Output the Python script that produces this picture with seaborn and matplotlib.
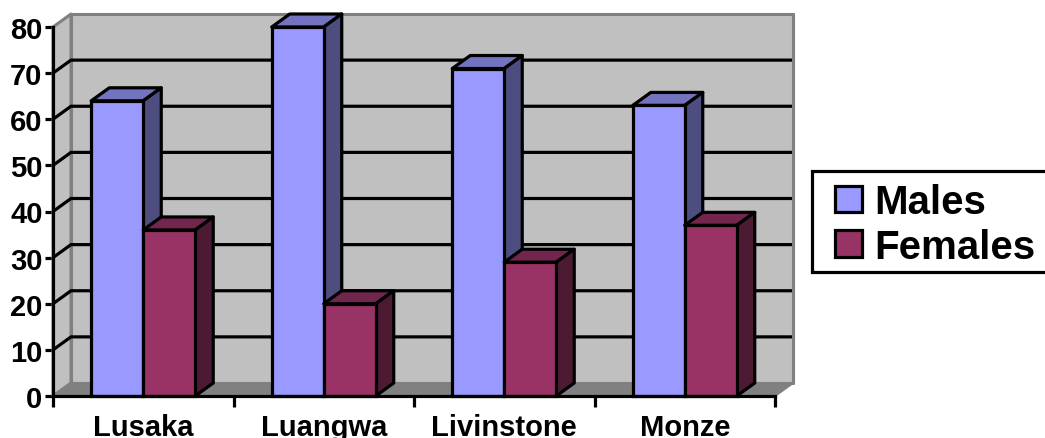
import matplotlib
matplotlib.use("Agg")
import matplotlib.pyplot as plt
import pandas as pd
import seaborn as sns
from matplotlib.patches import Polygon, Rectangle

towns = ["Lusaka", "Luangwa", "Livinstone", "Monze"]
males = [64, 80, 71, 63]
females = [36, 20, 29, 37]
y_ticks = [0, 10, 20, 30, 40, 50, 60, 70, 80]

FRONT = {"Males": "#9999FF", "Females": "#993366"}
TOP = {"Males": "#7373BF", "Females": "#73264D"}
SIDE = {"Males": "#4D4D80", "Females": "#4D1A33"}
WALL = "#C0C0C0"
FLOOR = "#808080"
LW = 2.3

sns.set_theme(style="white")
plt.rcParams["font.family"] = ["Liberation Sans", "DejaVu Sans"]
plt.rcParams["font.weight"] = "bold"
plt.rcParams["text.color"] = "black"

df = pd.DataFrame({
    "town": towns * 2,
    "sex": ["Males"] * len(towns) + ["Females"] * len(towns),
    "value": males + females,
})

W, H = 1045, 439
fig = plt.figure(figsize=(W / 100, H / 100), dpi=100)
ax = fig.add_axes([53 / W, 1 - 397 / H, 722 / W, 369 / H])

sns.barplot(data=df, x="town", y="value", hue="sex", order=towns,
            hue_order=["Males", "Females"], palette=FRONT, saturation=1,
            width=0.576, gap=0, edgecolor="black", linewidth=LW, ax=ax,
            legend=True)
ax.set_xlim(-0.5, 3.5)
ax.set_ylim(0, 80)
ax.set_xlabel("")
ax.set_ylabel("")

# depth of the box, expressed in data units
DX = 18 / (722 / 4)
DY = 13 / (369 / 80)


def poly(points, face, edge, lw, z):
    ax.add_patch(Polygon(points, closed=True, facecolor=face, edgecolor=edge,
                         linewidth=lw, zorder=z, clip_on=False,
                         joinstyle="round"))


x0, x1 = -0.5, 3.5
# back wall, side wall and floor
poly([(x0 + DX, DY), (x1 + DX, DY), (x1 + DX, 80 + DY), (x0 + DX, 80 + DY)],
     WALL, FLOOR, 2.2, 0.5)
poly([(x0, 0), (x0 + DX, DY), (x0 + DX, 80 + DY), (x0, 80)], WALL, FLOOR, 2.2, 0.6)
poly([(x0, 0), (x1, 0), (x1 + DX, DY), (x0 + DX, DY)], FLOOR, FLOOR, 1.5, 0.7)

# gridlines run across the side wall and along the back wall
for v in y_ticks[1:-1]:
    ax.plot([x0, x0 + DX, x1 + DX], [v, v + DY, v + DY], color="black", lw=LW,
            zorder=1, clip_on=False, solid_joinstyle="miter", solid_capstyle="butt")
ax.plot([x1 + DX, x1 + DX], [DY, 80 + DY], color=FLOOR, lw=2.2, zorder=1.5,
        clip_on=False)

# extruded top and side for every bar
n = len(towns)
bars = [p for c in ax.containers for p in c]
for i, bar in enumerate(bars):
    sex = "Males" if i < n else "Females"
    z = 3 if sex == "Males" else 5
    xl, xr = bar.get_x(), bar.get_x() + bar.get_width()
    h = bar.get_height()
    poly([(xl, h), (xr, h), (xr + DX, h + DY), (xl + DX, h + DY)],
         TOP[sex], "black", LW, z)
    poly([(xr, 0), (xr + DX, DY), (xr + DX, h + DY), (xr, h)],
         SIDE[sex], "black", LW, z)
    bar.set_zorder(z + 1)
    bar.set_clip_on(False)

for side in ("top", "right"):
    ax.spines[side].set_visible(False)
for side in ("left", "bottom"):
    ax.spines[side].set_color("black")
    ax.spines[side].set_linewidth(LW)
    ax.spines[side].set_zorder(8)

ax.set_yticks(y_ticks)
ax.tick_params(axis="y", length=6, width=LW, color="black", labelsize=21,
               pad=1.5, left=True, labelcolor="black")
ax.set_xticks([i - 0.5 for i in range(n + 1)])
ax.set_xticklabels([])
ax.set_xticks(range(n), labels=towns, minor=True)
ax.tick_params(axis="x", which="major", length=8, width=LW, color="black", bottom=True)
ax.tick_params(axis="x", which="minor", length=0, labelsize=21, pad=12,
               labelcolor="black")

handles, labels = ax.get_legend_handles_labels()
ax.get_legend().remove()

# legend box runs past the right edge of the figure
fig.add_artist(Rectangle((812 / W, 1 - 273 / H), 260 / W, 101 / H,
                         transform=fig.transFigure, facecolor="white",
                         edgecolor="black", linewidth=LW))
leg = fig.legend(handles, labels, loc="upper left",
                 bbox_to_anchor=(821 / W, 1 - 170 / H),
                 bbox_transform=fig.transFigure, borderaxespad=0,
                 frameon=False, handlelength=0.68, handleheight=0.65,
                 handletextpad=0.28, labelspacing=0.16, borderpad=0.35,
                 prop={"weight": "bold", "size": 29})
for t in leg.get_texts():
    t.set_color("black")
for p in leg.get_patches():
    p.set_linewidth(LW)

fig.savefig("out.png", dpi=100)
